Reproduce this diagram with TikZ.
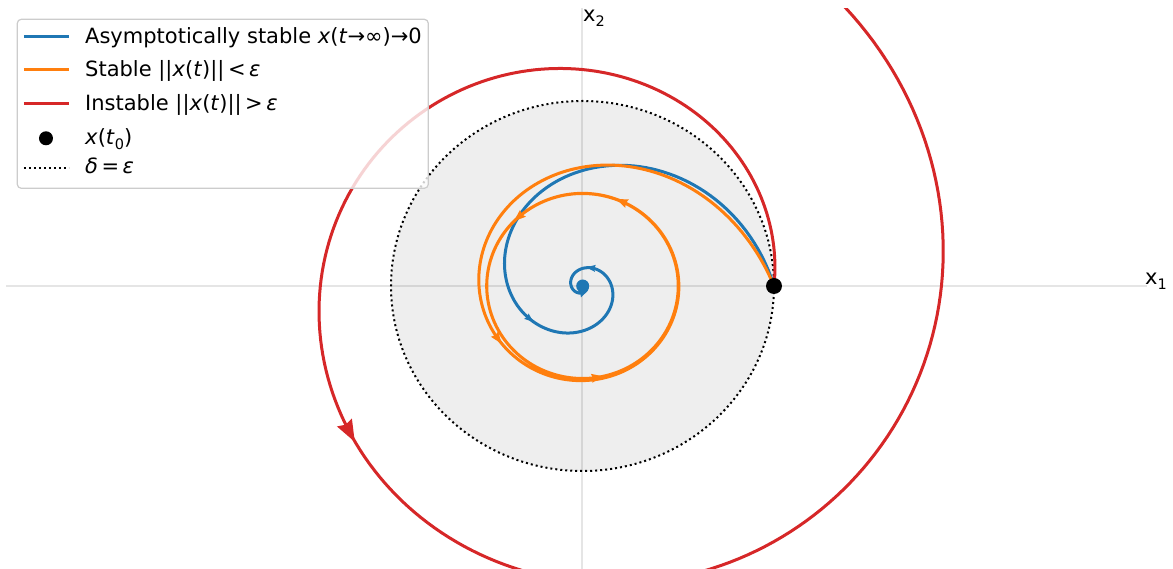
\documentclass[tikz,border=0pt]{standalone}
\usepackage{fontspec}
\setmainfont{DejaVu Sans}
\definecolor{tabblue}{HTML}{1F77B4}
\definecolor{taborange}{HTML}{FF7F0E}
\definecolor{tabred}{HTML}{D62728}
\definecolor{diskgray}{RGB}{238,238,238}
\definecolor{legendedge}{RGB}{204,204,204}
\newcommand\arrowat[6]{%
  \pgfmathsetmacro\aR{#2}%
  \pgfmathsetmacro\aRp{#3}%
  \pgfmathsetmacro\apx{\aR*cos(#4)}%
  \pgfmathsetmacro\apy{0.966*\aR*sin(#4)}%
  \pgfmathsetmacro\adx{\aRp*cos(#4)-\aR*sin(#4)}%
  \pgfmathsetmacro\ady{0.966*(\aRp*sin(#4)+\aR*cos(#4))}%
  \pgfmathsetmacro\aang{atan2(\ady,\adx)}%
  \fill[#1, shift={(\apx,\apy)}, rotate=\aang] (0.5*#5,0) -- (-0.5*#5,0.5*#6) -- (-0.38*#5,0) -- (-0.5*#5,-0.5*#6) -- cycle;%
}
\newcommand\lsub[1]{\raisebox{-0.22em}{\fontsize{14.5}{15}\selectfont #1}}
\begin{document}
\begin{tikzpicture}[x=1pt,y=1pt,
  traj/.style={line width=3, line join=round},
  axisline/.style={draw=black, draw opacity=0.1, line width=2},
  dottedline/.style={black, line width=2, dash pattern=on 2 off 3},
  lbl/.style={inner sep=0, font=\fontsize{21}{25}\selectfont},
  axlbl/.style={inner sep=0, anchor=base west, font=\fontsize{21}{25}\selectfont}]
\useasboundingbox (-582.5,-283) rectangle (590.5,286);
% disk of radius delta
\fill[diskgray] (0,0) ellipse [x radius=191.5, y radius=185];
% axes
\draw[axisline] (-576.5,0) -- (564.5,0);
\draw[axisline] (0,-283) -- (0,277.7);
\node[axlbl] (xone) at (562.5,1) {x\lsub{1}};
\node[axlbl] (xtwo) at (0.5,264.3) {x\lsub{2}};
% delta = epsilon circle
\draw[dottedline] (0,0) ellipse [x radius=191.5, y radius=185];
% asymptotically stable
\draw[traj, tabblue] plot[domain=0:1440, samples=600, variable=\t]
  ({191.5*exp(-0.3*rad(\t))*cos(\t)}, {0.966*191.5*exp(-0.3*rad(\t))*sin(\t)});
\arrowat{tabblue}{191.5*exp(-0.3*rad(213))}{-0.3*191.5*exp(-0.3*rad(213))}{213}{9}{7}
\arrowat{tabblue}{191.5*exp(-0.3*rad(426))}{-0.3*191.5*exp(-0.3*rad(426))}{426}{9}{7}
\arrowat{tabblue}{191.5*exp(-0.3*rad(639))}{-0.3*191.5*exp(-0.3*rad(639))}{639}{9}{7}
% stable
\draw[traj, taborange] plot[domain=0:1080, samples=500, variable=\t]
  ({(95.75+95.75*exp(-0.8*rad(\t)))*cos(\t)}, {0.966*(95.75+95.75*exp(-0.8*rad(\t)))*sin(\t)});
\arrowat{taborange}{95.75+95.75*exp(-0.8*rad(213))}{-0.8*95.75*exp(-0.8*rad(213))}{213}{12}{9}
\arrowat{taborange}{95.75+95.75*exp(-0.8*rad(426))}{-0.8*95.75*exp(-0.8*rad(426))}{426}{12}{9}
\arrowat{taborange}{95.75+95.75*exp(-0.8*rad(639))}{-0.8*95.75*exp(-0.8*rad(639))}{639}{12}{9}
\arrowat{taborange}{95.75+95.75*exp(-0.8*rad(852))}{-0.8*95.75*exp(-0.8*rad(852))}{852}{12}{9}
% instable
\begin{scope}
\clip (-582.5,-283) rectangle (590.5,277.7);
\draw[traj, tabred] plot[domain=0:440, samples=260, variable=\t]
  ({191.5*exp(0.1*rad(\t))*cos(\t)}, {0.966*191.5*exp(0.1*rad(\t))*sin(\t)});
\end{scope}
\arrowat{tabred}{191.5*exp(0.1*rad(213))}{0.1*191.5*exp(0.1*rad(213))}{213}{22}{17}
% points
\fill[tabblue] (0.2,0) circle (6.5) node (eq) {};
\fill[black] (191.5,0) circle (8) node (x0) {};
% legend
\draw[legendedge, line width=1.2, rounded corners=4, fill=white, fill opacity=0.8] (-565.2,97.7) rectangle (-154.2,266.7);
\draw[traj, tabblue] (-558.5,249.3) -- (-513.5,249.3);
\draw[traj, taborange] (-558.5,216) -- (-513.5,216);
\draw[traj, tabred] (-558.5,182) -- (-513.5,182);
\fill[black] (-536.5,147.7) circle (7);
\draw[dottedline] (-558.5,118) -- (-513.5,118);
\node[lbl, anchor=base west] (l1) at (-497.5,242.7) {Asymptotically stable \textit{x}(\textit{t}→∞)→0};
\node[lbl, anchor=base west] (l2) at (-497.5,209.3) {Stable ||\textit{x}(\textit{t})||\,<\,\textit{ε}};
\node[lbl, anchor=base west] (l3) at (-497.5,175.3) {Instable ||\textit{x}(\textit{t})||\,>\,\textit{ε}};
\node[lbl, anchor=base west] (l4) at (-497.5,141) {\textit{x}(\textit{t}\lsub{0})};
\node[lbl, anchor=base west] (l5) at (-497.5,112) {\textit{δ}\,=\,\textit{ε}};
\end{tikzpicture}
\end{document}
